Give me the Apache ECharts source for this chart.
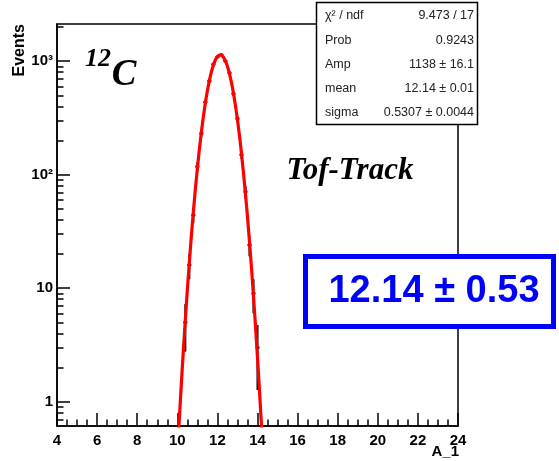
<!DOCTYPE html>
<html>
<head>
<meta charset="utf-8">
<script src="https://cdn.jsdelivr.net/npm/echarts@6/dist/echarts.min.js"></script>
<style>
  html, body { margin: 0; padding: 0; background: #fff; }
  #chart { width: 559px; height: 461px; }
</style>
</head>
<body>
<div id="chart"></div>
<script>
// Histogram of A_1 (bin centres and counts, bin width 0.2)
const binWidth = 0.2;
const binCenters = [10.4, 10.6, 10.8, 11.0, 11.2, 11.4, 11.6, 11.8, 12.0, 12.2,
                    12.4, 12.6, 12.8, 13.0, 13.2, 13.4, 13.6, 13.8, 14.0];
const binCounts  = [5, 16, 44, 118, 231, 437, 671, 939, 1088, 1140,
                    1002, 790, 517, 312, 150, 71, 24, 9, 3];

// Gaussian fit curve, sampled along A_1
const fitX = [10.0, 10.1, 10.2, 10.3, 10.4, 10.5, 10.6, 10.7, 10.8, 10.9, 11.0,
              11.1, 11.2, 11.3, 11.4, 11.5, 11.6, 11.7, 11.8, 11.9, 12.0,
              12.1, 12.2, 12.3, 12.4, 12.5, 12.6, 12.7, 12.8, 12.9, 13.0,
              13.1, 13.2, 13.3, 13.4, 13.5, 13.6, 13.7, 13.8, 13.9, 14.0,
              14.1, 14.2, 14.3];
const fitY = [0.34, 0.70, 1.43, 2.79, 5.27, 9.6, 16.9, 28.7, 47.0, 74.2, 113,
              167, 237, 325, 430, 550, 678, 807, 927, 1027, 1099,
              1135, 1131, 1087, 1009, 904, 782, 652, 525, 408, 306,
              222, 155, 104, 67.9, 42.7, 25.9, 15.1, 8.54, 4.65, 2.45,
              1.24, 0.61, 0.29];

// Axis ticks and labels
const xMin = 4, xMax = 24, xStep = 2;
const yMin = 0.611, yMax = 2128;
const yTickValues = [1, 10, 100, 1000];
const yTickLabels = ['1', '10', '10\u00B2', '10\u00B3'];
const yMinorMultipliers = [2, 3, 4, 5, 6, 7, 8, 9];

// Fit statistics
const statNames  = ['\u03C7\u00B2 / ndf', 'Prob', 'Amp', 'mean', 'sigma'];
const statValues = ['9.473 / 17', '0.9243', '1138 \u00B1 16.1', '12.14 \u00B1 0.01', '0.5307 \u00B1 0.0044'];
const resultText = '12.14 \u00B1 0.53';

// minor tick positions on the log axis: 0.7..0.9 and 2..9 in every decade
const yMinorTicks = [0.7, 0.8, 0.9];
yTickValues.forEach(d => yMinorMultipliers.forEach(m => {
  const v = d * m;
  if (v < yMax) yMinorTicks.push(v);
}));

const sans = 'Liberation Sans, Arial, Helvetica, sans-serif';
const serif = 'Liberation Serif, Times New Roman, serif';

const chart = echarts.init(document.getElementById('chart'), null, { renderer: 'canvas' });

// vertical error bar (sqrt N) plus horizontal bin-width bar for each bin
function errorBar(params, api) {
  const x = api.value(0), n = api.value(1);
  const err = Math.sqrt(n);
  const lo = Math.max(n - err, yMin);
  const top = api.coord([x, n + err]);
  const bot = api.coord([x, lo]);
  const l = api.coord([x - binWidth / 2, n]);
  const r = api.coord([x + binWidth / 2, n]);
  const st = { stroke: '#000', lineWidth: 2 };
  return {
    type: 'group',
    children: [
      { type: 'line', shape: { x1: top[0], y1: top[1], x2: bot[0], y2: bot[1] }, style: st },
      { type: 'line', shape: { x1: l[0], y1: l[1], x2: r[0], y2: r[1] }, style: st }
    ]
  };
}

const statChildren = [];
const rowY = [16, 41, 65, 89, 113];
statNames.forEach((name, i) => {
  statChildren.push({
    type: 'text', x: 325, y: rowY[i],
    style: { text: name, font: '12.5px ' + sans, fill: '#222', textAlign: 'left', textVerticalAlign: 'middle' }
  });
  statChildren.push({
    type: 'text', x: 474, y: rowY[i],
    style: { text: statValues[i], font: '12.5px ' + sans, fill: '#222', textAlign: 'right', textVerticalAlign: 'middle' }
  });
});

const option = {
  backgroundColor: '#fff',
  animation: false,
  grid: {
    left: 57, right: 101, top: 24, bottom: 35,
    show: true, borderColor: '#000', borderWidth: 1.5, backgroundColor: 'transparent'
  },
  xAxis: {
    type: 'value', min: xMin, max: xMax, interval: xStep,
    axisLine: { show: true, lineStyle: { color: '#000', width: 1.5 } },
    axisTick: { show: true, inside: true, length: 13, lineStyle: { color: '#000', width: 1.5 } },
    minorTick: { show: true, splitNumber: 4, length: 6.5, lineStyle: { color: '#000', width: 1.5 } },
    splitLine: { show: false },
    axisLabel: { color: '#000', fontFamily: sans, fontWeight: 'bold', fontSize: 15, margin: 7 }
  },
  yAxis: [
    {
      type: 'log', logBase: 10, min: yMin, max: yMax,
      axisLine: { show: true, lineStyle: { color: '#000', width: 1.5 } },
      axisTick: { show: true, inside: true, length: 13, customValues: yTickValues, lineStyle: { color: '#000', width: 1.5 } },
      splitLine: { show: false },
      axisLabel: {
        customValues: yTickValues,
        color: '#000', fontFamily: sans, fontWeight: 'bold', fontSize: 15, margin: 4,
        formatter: v => {
          const i = yTickValues.findIndex(t => Math.abs(t - v) / t < 1e-6);
          return i >= 0 ? yTickLabels[i] : '';
        }
      }
    },
    {
      type: 'log', logBase: 10, min: yMin, max: yMax, position: 'left',
      axisLine: { show: false },
      axisTick: { show: true, inside: true, length: 6.5, customValues: yMinorTicks, lineStyle: { color: '#000', width: 1.5 } },
      splitLine: { show: false },
      axisLabel: { show: false }
    }
  ],
  series: [
    {
      type: 'custom', name: 'data', renderItem: errorBar, clip: true, z: 2,
      data: binCenters.map((c, i) => [c, binCounts[i]])
    },
    {
      type: 'line', name: 'fit', showSymbol: false, clip: true, z: 3,
      lineStyle: { color: '#ff0000', width: 3.2 },
      data: fitX.map((x, i) => [x, fitY[i]])
    }
  ],
  graphic: [
    // axis titles
    {
      type: 'text', x: 20, y: 24, rotation: Math.PI / 2, z: 100,
      style: { text: 'Events', font: 'bold 16px ' + sans, fill: '#000', textAlign: 'right', textVerticalAlign: 'middle' }
    },
    {
      type: 'text', x: 459, y: 444, z: 100,
      style: { text: 'A_1', font: 'bold 15px ' + sans, fill: '#000', textAlign: 'right', textVerticalAlign: 'top' }
    },
    // nucleus label
    {
      type: 'text', x: 98, y: 59, z: 100,
      style: { text: '12', font: 'italic bold 26px ' + serif, fill: '#000', textAlign: 'center', textVerticalAlign: 'middle' }
    },
    {
      type: 'text', x: 124, y: 75, z: 100,
      style: { text: 'C', font: 'italic bold 37px ' + serif, fill: '#000', textAlign: 'center', textVerticalAlign: 'middle' }
    },
    {
      type: 'text', x: 350, y: 171, z: 100,
      style: { text: 'Tof-Track', font: 'italic bold 31px ' + serif, fill: '#000', textAlign: 'center', textVerticalAlign: 'middle' }
    },
    // fit statistics box
    {
      type: 'group', z: 100,
      children: [
        { type: 'rect', shape: { x: 316.5, y: 2.5, width: 161, height: 122 }, style: { fill: '#fff', stroke: '#000', lineWidth: 1.5 } }
      ].concat(statChildren)
    },
    // result box
    {
      type: 'group', z: 100,
      children: [
        { type: 'rect', shape: { x: 305.5, y: 256.5, width: 248, height: 70 }, style: { fill: '#fff', stroke: '#0000ff', lineWidth: 5 } },
        { type: 'text', x: 434, y: 292, style: { text: resultText, font: 'bold 38px ' + sans, fill: '#0000ff', textAlign: 'center', textVerticalAlign: 'middle' } }
      ]
    }
  ]
};

chart.setOption(option);
</script>
</body>
</html>
